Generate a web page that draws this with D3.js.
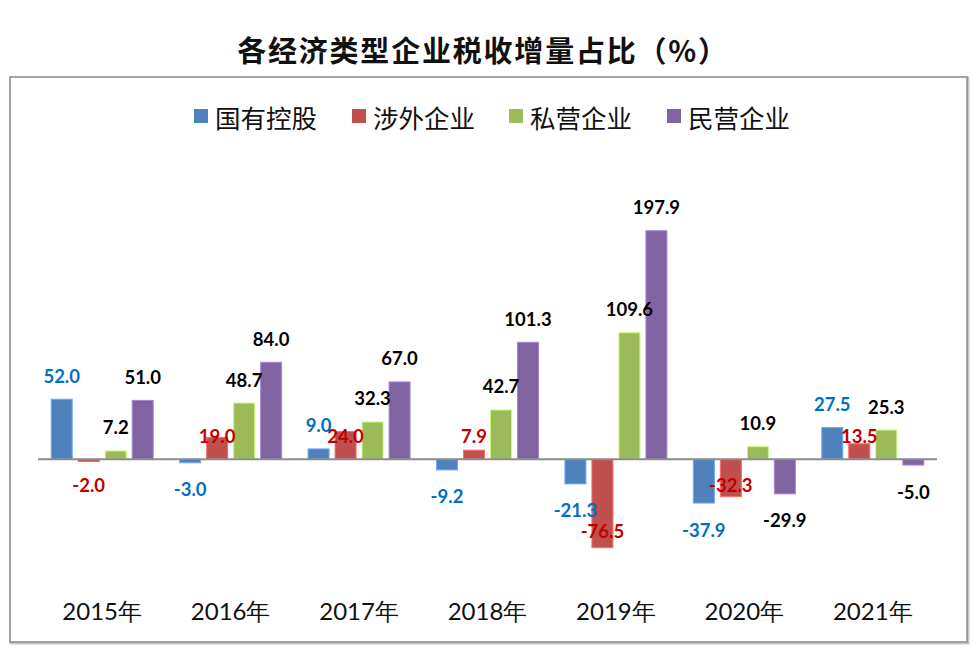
<!DOCTYPE html>
<html><head><meta charset="utf-8">
<script src="https://cdn.jsdelivr.net/npm/d3@7"></script>
<style>body{margin:0;background:#fff}</style>
</head><body>
<svg id="c" width="977" height="666"></svg>
<script>
const years = ["2015年","2016年","2017年","2018年","2019年","2020年","2021年"];
const seriesNames = ["国有控股","涉外企业","私营企业","民营企业"];
const stateOwned = [52.0, -3.0, 9.0, -9.2, -21.3, -37.9, 27.5];
const foreignRel = [-2.0, 19.0, 24.0, 7.9, -76.5, -32.3, 13.5];
const privateEnt = [7.2, 48.7, 32.3, 42.7, 109.6, 10.9, 25.3];
const minying = [51.0, 84.0, 67.0, 101.3, 197.9, -29.9, -5.0];
const seriesValues = [stateOwned, foreignRel, privateEnt, minying];

const barColors = ["#4F81BD","#C0504D","#9BBB59","#8064A2"];
const labelColors = ["#0070C0","#C00000","#000000","#000000"];

const svg = d3.select("#c");
// frame
svg.append("rect").attr("x",11).attr("y",78).attr("width",957).attr("height",565)
  .attr("fill","none").attr("stroke","#c8c8c8").attr("stroke-width",3);
svg.append("rect").attr("x",10).attr("y",77).attr("width",957).attr("height",565)
  .attr("fill","#fff").attr("stroke","#8c8c8c").attr("stroke-width",1.5);

// title
svg.append("text").attr("x",483).attr("y",49).attr("text-anchor","middle")
  .attr("dominant-baseline","central")
  .style("font-family","'Noto Sans CJK SC'").style("font-weight","bold").style("font-size","29px")
  .style("letter-spacing","1.8px")
  .attr("fill","#111").text("各经济类型企业税收增量占比（%）");

// legend
const legX = [194, 352, 509, 667];
seriesNames.forEach((n,i)=>{
  const g = svg.append("g").attr("transform",`translate(${legX[i]},116)`);
  g.append("rect").attr("x",0).attr("y",-7).attr("width",14).attr("height",14).attr("fill",barColors[i]);
  g.append("text").attr("x",21).attr("y",0).attr("dominant-baseline","central")
   .style("font-family","'Noto Sans CJK SC'").style("font-size","25.5px").attr("fill","#111").text(n);
});

const x0 = d3.scaleBand().domain(years).range([38, 937]).padding(0);
const x1 = d3.scaleBand().domain(d3.range(4)).range([0,108]).paddingInner(6/27).paddingOuter(3/27);
const y = d3.scaleLinear().domain([-100, 200]).range([574.8, 228.3]);
const y0 = y(0);

const data = [];
years.forEach((yr,i)=>{
  seriesValues.forEach((arr,s)=>{ data.push({yr, i, s, v: arr[i]}); });
});

const gx = d => x0(d.yr) + x0.bandwidth()/2 - 54 + x1(d.s);

svg.append("g").selectAll("rect").data(data).join("rect")
  .attr("x", gx)
  .attr("width", x1.bandwidth())
  .attr("y", d => Math.min(y(d.v), y0))
  .attr("height", d => Math.abs(y(d.v) - y0))
  .attr("fill", d => barColors[d.s])
  .attr("stroke", d => d3.color(barColors[d.s]).brighter(0.8))
  .attr("stroke-width", 1);

// zero line
svg.append("line").attr("x1",38).attr("x2",937).attr("y1",y0).attr("y2",y0)
  .attr("stroke","#8c8c8c").attr("stroke-width",2);

// labels: red series labels sit at the baseline (as in the source), 2019 red nudged
const redNudge = {4: 46};
function labelY(d){
  if (d.s === 1) {
    const base = d.v >= 0 ? y0 - 23 : y0 + 26;
    return base + (redNudge[d.i] || 0);
  }
  return d.v >= 0 ? y(d.v) - 23.5 : y(d.v) + 26.5;
}
const fmt = v => d3.format(".1f")(v).replace("\u2212","-");
svg.append("g").selectAll("text").data(data).join("text")
  .attr("x", d => gx(d) + x1.bandwidth()/2)
  .attr("y", labelY)
  .attr("text-anchor","middle").attr("dominant-baseline","central")
  .style("font-family","Lato").style("font-weight","bold").style("font-size","18.5px")
  .attr("fill", d => labelColors[d.s])
  .text(d => fmt(d.v));

// x axis labels
svg.append("g").selectAll("text").data(years).join("text")
  .attr("x", d => x0(d) + x0.bandwidth()/2)
  .attr("y", 610).attr("text-anchor","middle").attr("dominant-baseline","central")
  .style("font-family","Lato").style("font-size","24px").attr("fill","#111")
  .text(d => d);
</script>
</body></html>
